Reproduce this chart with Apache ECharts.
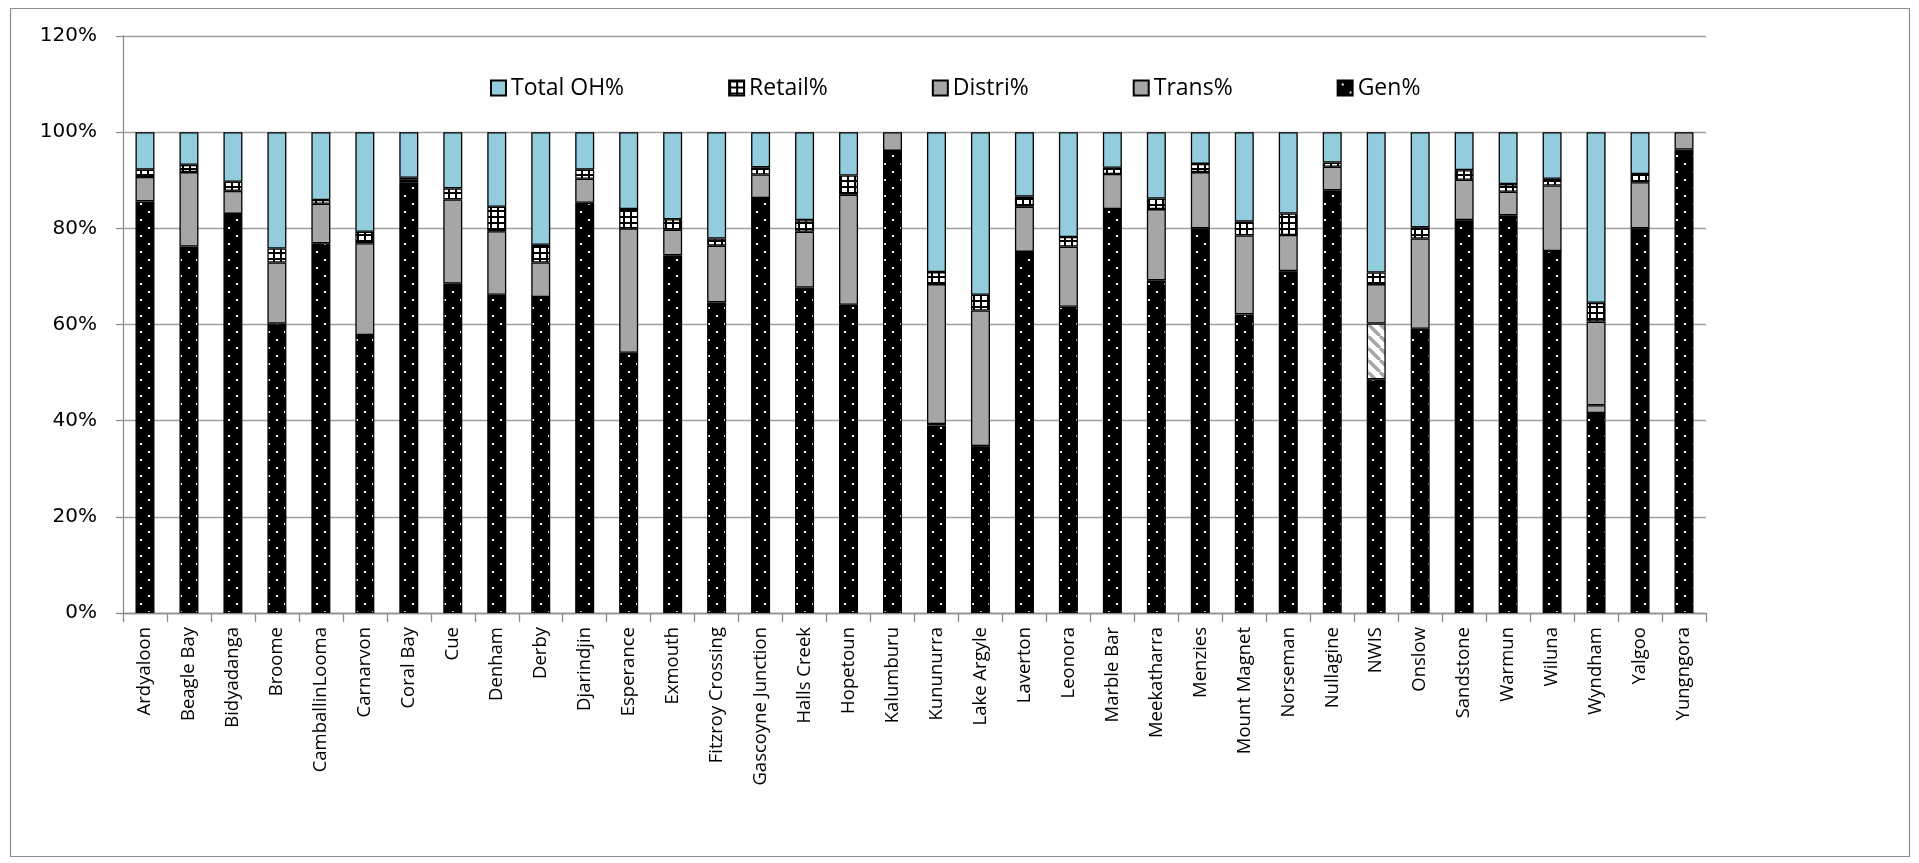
<!DOCTYPE html>
<html>
<head>
<meta charset="utf-8">
<script src="https://cdn.jsdelivr.net/npm/echarts@6/dist/echarts.min.js"></script>
<style>
  html, body { margin: 0; padding: 0; background: #ffffff; }
  #chart { width: 1919px; height: 863px; }
</style>
</head>
<body>
<div id="chart"></div>
<script>
// Cost components (% of total) per power system
const categories = ['Ardyaloon', 'Beagle Bay', 'Bidyadanga', 'Broome', 'CamballinLooma', 'Carnarvon',
  'Coral Bay', 'Cue', 'Denham', 'Derby', 'Djarindjin', 'Esperance', 'Exmouth', 'Fitzroy Crossing',
  'Gascoyne Junction', 'Halls Creek', 'Hopetoun', 'Kalumburu', 'Kununurra', 'Lake Argyle', 'Laverton',
  'Leonora', 'Marble Bar', 'Meekatharra', 'Menzies', 'Mount Magnet', 'Norseman', 'Nullagine', 'NWIS',
  'Onslow', 'Sandstone', 'Warmun', 'Wiluna', 'Wyndham', 'Yalgoo', 'Yungngora'];

const genPct = [85.6, 76.2, 83.0, 60.2, 76.9, 57.8, 89.6, 68.5, 66.2, 65.7, 85.3, 54.1, 74.4, 64.6,
  86.3, 67.7, 64.1, 96.1, 39.0, 34.7, 75.1, 63.7, 84.0, 69.2, 80.0, 62.1, 71.1, 87.9, 48.6, 59.1,
  81.7, 82.7, 75.3, 41.6, 80.0, 96.4];

const transPct = [null, null, null, null, null, null, null, null, null, null, null, null, null, null,
  null, null, null, null, 0.3, null, null, null, null, null, null, null, null, null, 11.6, null,
  null, null, null, 1.6, null, null];

const distriPct = [5.1, 15.5, 4.8, 12.7, 8.2, 19.1, 0.5, 17.5, 13.2, 7.2, 5.0, 25.9, 5.3, 11.8,
  4.9, 11.6, 22.9, 3.9, 29.1, 28.2, 9.4, 12.5, 7.3, 14.8, 11.7, 16.4, 7.5, 4.9, 8.2, 18.8,
  8.4, 4.9, 13.6, 17.4, 9.6, 3.6];

const retailPct = [1.5, 1.5, 1.9, 2.9, 0.8, 2.4, 0.4, 2.3, 5.1, 3.7, 1.9, 4.0, 2.2, 1.5,
  1.5, 2.4, 4.0, null, 2.5, 3.3, 2.1, 2.0, 1.3, 2.2, 1.7, 2.9, 4.5, 0.9, 2.4, 2.3,
  2.0, 1.6, 1.4, 3.9, 1.7, null];

const totalOhPct = [7.8, 6.8, 10.3, 24.2, 14.1, 20.7, 9.5, 11.7, 15.5, 23.4, 7.8, 16.0, 18.1, 22.1,
  7.3, 18.3, 9.0, null, 29.1, 33.8, 13.4, 21.8, 7.4, 13.8, 6.6, 18.6, 16.9, 6.3, 29.2, 19.8,
  7.9, 10.8, 9.7, 35.5, 8.7, null];

const yTicks = [0, 20, 40, 60, 80, 100, 120];

// --- fill patterns --------------------------------------------------------
function makePattern(w, h, draw) {
  const c = document.createElement('canvas');
  c.width = w; c.height = h;
  draw(c.getContext('2d'), w, h);
  return { image: c, repeat: 'repeat' };
}

// black with sparse white dots
const dotFill = makePattern(16, 16, (ctx, w, h) => {
  ctx.fillStyle = '#000000'; ctx.fillRect(0, 0, w, h);
  ctx.fillStyle = '#ffffff';
  ctx.fillRect(4, 3, 2, 2);
  ctx.fillRect(12, 11, 2, 2);
});

// white with a heavy black grid
const gridFill = makePattern(7, 6, (ctx, w, h) => {
  ctx.fillStyle = '#ffffff'; ctx.fillRect(0, 0, w, h);
  ctx.fillStyle = '#000000';
  ctx.fillRect(0, 0, w, 2);
  ctx.fillRect(0, 0, 2, h);
});

// white with grey diagonal stripes
const hatchFill = makePattern(12, 12, (ctx, w, h) => {
  ctx.fillStyle = '#ffffff'; ctx.fillRect(0, 0, w, h);
  ctx.strokeStyle = '#a6a6a6'; ctx.lineWidth = 3.5;
  for (const off of [-12, 0, 12]) {
    ctx.beginPath();
    ctx.moveTo(off, 0);
    ctx.lineTo(off + 12, 12);
    ctx.stroke();
  }
});

const BLUE = '#93cddd';
const GREY = '#a6a6a6';

const chart = echarts.init(document.getElementById('chart'), null, { renderer: 'canvas' });

const border = { borderColor: '#000000', borderWidth: 1.3 };

function barSeries(name, data, color) {
  return {
    name: name,
    type: 'bar',
    stack: 'total',
    barWidth: 19,
    data: data,
    itemStyle: Object.assign({ color: color }, border),
    emphasis: { disabled: true }
  };
}

const transData = transPct.map((v, i) =>
  categories[i] === 'NWIS' && v != null ? { value: v, itemStyle: { color: hatchFill } } : v);

chart.setOption({
  animation: false,
  backgroundColor: '#ffffff',
  graphic: [{
    type: 'rect',
    shape: { x: 10.5, y: 8.5, width: 1899, height: 848 },
    style: { fill: 'none', stroke: '#8c8c8c', lineWidth: 1.2 },
    silent: true
  }],
  grid: { left: 123, right: 213, top: 36, bottom: 250, containLabel: false },
  legend: {
    data: ['Total OH%', 'Retail%', 'Distri%', 'Trans%', 'Gen%'],
    left: 485,
    top: 71,
    icon: 'rect',
    itemWidth: 15,
    itemHeight: 15,
    itemGap: 104,
    textStyle: { fontFamily: 'Open Sans', fontSize: 23, color: '#000000', lineHeight: 24 },
    selectedMode: false
  },
  xAxis: {
    type: 'category',
    data: categories,
    axisLine: { lineStyle: { color: '#8c8c8c', width: 1.3 } },
    axisTick: { show: true, interval: 0, length: 9, lineStyle: { color: '#8c8c8c', width: 1.3 } },
    axisLabel: {
      interval: 0,
      rotate: 90,
      margin: 14,
      fontFamily: 'Open Sans',
      fontSize: 18.5,
      color: '#000000'
    }
  },
  yAxis: {
    type: 'value',
    min: yTicks[0],
    max: yTicks[yTicks.length - 1],
    interval: 20,
    axisLine: { show: true, lineStyle: { color: '#8c8c8c', width: 1.3 } },
    axisTick: { show: true, length: 7, lineStyle: { color: '#8c8c8c', width: 1.3 } },
    splitLine: { lineStyle: { color: '#a0a0a0', width: 1.3 } },
    axisLabel: {
      margin: 26,
      fontFamily: 'DejaVu Sans',
      fontSize: 20,
      color: '#000000',
      formatter: '{value}%'
    }
  },
  series: [
    barSeries('Gen%', genPct, dotFill),
    barSeries('Trans%', transData, GREY),
    barSeries('Distri%', distriPct, GREY),
    barSeries('Retail%', retailPct, gridFill),
    barSeries('Total OH%', totalOhPct, BLUE)
  ]
});
</script>
</body>
</html>
